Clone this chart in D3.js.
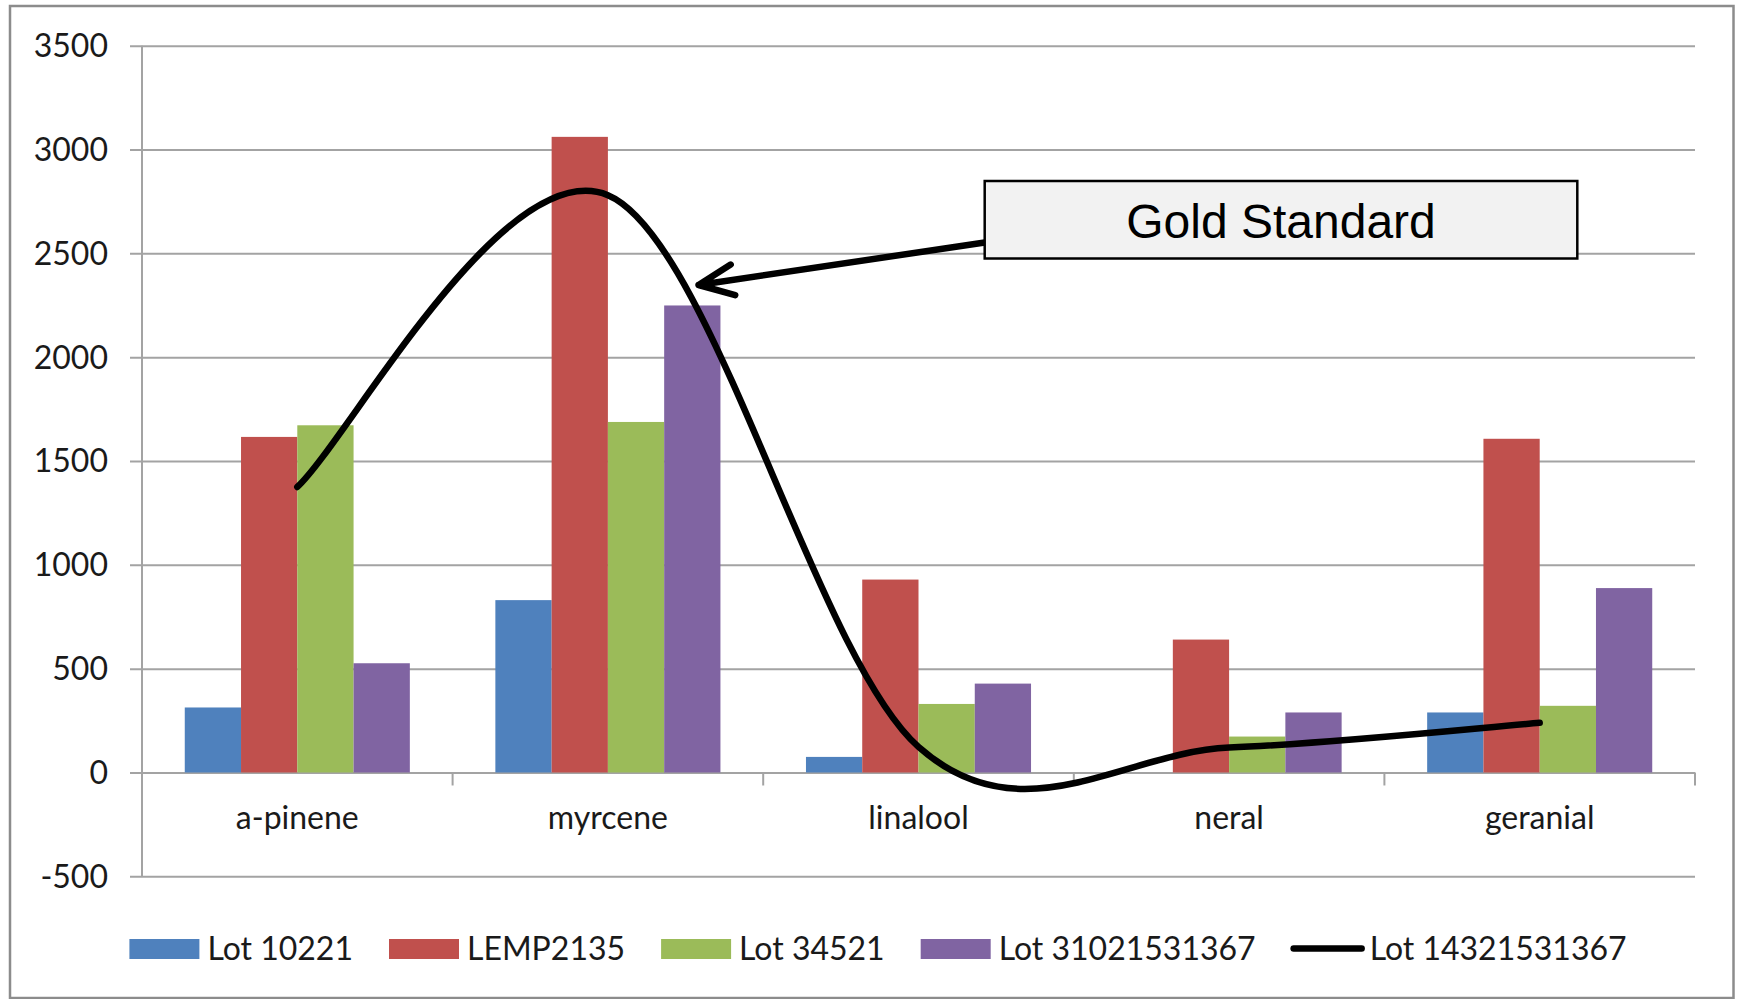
<!DOCTYPE html>
<html>
<head>
<meta charset="utf-8">
<script src="https://cdn.jsdelivr.net/npm/d3@7"></script>
<style>
  html, body { margin: 0; padding: 0; background: #fff; }
  svg { display: block; }
</style>
</head>
<body>
<svg id="chart" width="1741" height="999"></svg>
<script>
// ---------------- data ----------------
const categories = ["a-pinene", "myrcene", "linalool", "neral", "geranial"];
const barSeriesNames = ["Lot 10221", "LEMP2135", "Lot 34521", "Lot 31021531367"];
const lot10221       = [313, 830, 75, 0, 289];
const lemp2135       = [1616, 3061, 929, 640, 1607];
const lot34521       = [1672, 1688, 330, 173, 321];
const lot31021531367 = [526, 2249, 428, 289, 888];
const lineSeriesName = "Lot 14321531367";
const lot14321531367 = [1375, 2780, 123, 120, 239];
const yTickValues = [-500, 0, 500, 1000, 1500, 2000, 2500, 3000, 3500];
const annotationText = "Gold Standard";

const barColors = ["#4F81BD", "#C0504D", "#9BBB59", "#8064A2"];
const barValues = [lot10221, lemp2135, lot34521, lot31021531367];

// ---------------- layout ----------------
const svg = d3.select("#chart");
const calibri = "Lato, Carlito, 'Noto Sans', sans-serif";
const plotLeft = 142, plotRight = 1695, plotTop = 45.7, plotBottom = 876.3;
const gridColor = "#a3a3a3";

// outer chart border
svg.append("rect")
  .attr("x", 10).attr("y", 6)
  .attr("width", 1723.5).attr("height", 992)
  .attr("fill", "#fff").attr("stroke", "#8c8c8c").attr("stroke-width", 2.5);

const y = d3.scaleLinear().domain([-500, 3500]).range([plotBottom, plotTop]);
const x0 = d3.scaleBand().domain(categories).range([plotLeft, plotRight]).paddingInner(0).paddingOuter(0);
const x1 = d3.scaleBand().domain(barSeriesNames).range([0, x0.bandwidth()]).paddingInner(0).paddingOuter(0.76);

// gridlines + y labels via axis
const yAxis = d3.axisLeft(y).tickValues(yTickValues)
  .tickSize(-(plotRight - plotLeft + 12)).tickPadding(22).tickFormat(d => String(d));
const gy = svg.append("g").attr("transform", `translate(${plotLeft - 12},0)`).call(yAxis);
gy.select(".domain").remove();
gy.selectAll(".tick line").attr("stroke", gridColor).attr("stroke-width", 2);
gy.selectAll(".tick text")
  .attr("font-family", calibri).attr("font-size", 32).attr("fill", "#1a1a1a")
  .attr("dy", "0.34em");

// vertical value axis line
svg.append("line")
  .attr("x1", plotLeft).attr("x2", plotLeft)
  .attr("y1", plotTop).attr("y2", plotBottom)
  .attr("stroke", gridColor).attr("stroke-width", 2);

// category axis at zero
const xAxis = d3.axisBottom(x0).tickSize(0).tickPadding(0);
const gx = svg.append("g").attr("transform", `translate(0,${y(0)})`).call(xAxis);
gx.select(".domain").remove();
gx.selectAll(".tick text")
  .attr("font-family", calibri).attr("font-size", 32).attr("fill", "#1a1a1a")
  .attr("y", 0).attr("dy", 0)
  .attr("transform", "translate(0,57)");
// category boundary tick marks
const boundaries = categories.map(c => x0(c) + x0.bandwidth());
svg.append("g").selectAll("line").data(boundaries).join("line")
  .attr("x1", d => d).attr("x2", d => d)
  .attr("y1", y(0)).attr("y2", y(0) + 13)
  .attr("stroke", gridColor).attr("stroke-width", 2);

// bars
const barG = svg.append("g");
categories.forEach((cat, ci) => {
  barSeriesNames.forEach((s, si) => {
    const v = barValues[si][ci];
    if (v === 0) return;
    barG.append("rect")
      .attr("x", x0(cat) + x1(s))
      .attr("y", Math.min(y(v), y(0)))
      .attr("width", x1.bandwidth())
      .attr("height", Math.abs(y(0) - y(v)))
      .attr("fill", barColors[si]);
  });
});

// smoothed line (Excel-style bezier smoothing)
const pts = categories.map((c, i) => [x0(c) + x0.bandwidth() / 2, y(lot14321531367[i])]);
function smoothPath(p, k) {
  const path = d3.path();
  path.moveTo(p[0][0], p[0][1]);
  for (let i = 0; i < p.length - 1; i++) {
    const P0 = p[i - 1] || p[i], P1 = p[i], P2 = p[i + 1], P3 = p[i + 2] || p[i + 1];
    const c1 = [P1[0] + k * (P2[0] - P0[0]), P1[1] + k * (P2[1] - P0[1])];
    const c2 = [P2[0] - k * (P3[0] - P1[0]), P2[1] - k * (P3[1] - P1[1])];
    path.bezierCurveTo(c1[0], c1[1], c2[0], c2[1], P2[0], P2[1]);
  }
  return path.toString();
}
svg.append("path")
  .attr("d", smoothPath(pts, 1 / 6))
  .attr("fill", "none").attr("stroke", "#000").attr("stroke-width", 6.5)
  .attr("stroke-linecap", "round").attr("stroke-linejoin", "round");

// annotation box + arrow
const box = { x: 984.7, y: 181, w: 592.6, h: 77.5 };
const tip = [698.6, 285], tail = [box.x, 242.5];
const ang = Math.atan2(tail[1] - tip[1], tail[0] - tip[0]);
const headLen = 38, headAng = 24 * Math.PI / 180;
const h1 = [tip[0] + headLen * Math.cos(ang - headAng), tip[1] + headLen * Math.sin(ang - headAng)];
const h2 = [tip[0] + headLen * Math.cos(ang + headAng), tip[1] + headLen * Math.sin(ang + headAng)];
svg.append("path")
  .attr("d", `M${tail[0]},${tail[1]}L${tip[0]},${tip[1]}M${h1[0]},${h1[1]}L${tip[0]},${tip[1]}L${h2[0]},${h2[1]}`)
  .attr("fill", "none").attr("stroke", "#000").attr("stroke-width", 6.5)
  .attr("stroke-linecap", "round").attr("stroke-linejoin", "round");
svg.append("rect")
  .attr("x", box.x).attr("y", box.y).attr("width", box.w).attr("height", box.h)
  .attr("fill", "#f2f2f2").attr("stroke", "#000").attr("stroke-width", 2.5);
svg.append("text")
  .attr("x", box.x + box.w / 2).attr("y", 237.5)
  .attr("text-anchor", "middle")
  .attr("font-family", "'Liberation Sans', Arial, sans-serif").attr("font-size", 48)
  .attr("fill", "#000").text(annotationText);

// legend
const legendItems = barSeriesNames.map((n, i) => ({ name: n, color: barColors[i], type: "bar" }))
  .concat([{ name: lineSeriesName, color: "#000", type: "line" }]);
const lg = svg.append("g");
const swW = 70, swGap = 8, itemGap = 36;
let cx = 0;
legendItems.forEach(it => {
  const g = lg.append("g");
  if (it.type === "bar") {
    g.append("rect").attr("x", 0).attr("y", -9.5).attr("width", swW).attr("height", 20).attr("fill", it.color);
  } else {
    g.append("line").attr("x1", 2).attr("x2", swW).attr("y1", 0).attr("y2", 0)
      .attr("stroke", it.color).attr("stroke-width", 6.5).attr("stroke-linecap", "round");
  }
  const t = g.append("text").attr("x", swW + swGap).attr("y", 11)
    .attr("font-family", calibri).attr("font-size", 32).attr("fill", "#1a1a1a").text(it.name);
  const w = swW + swGap + t.node().getComputedTextLength();
  g.attr("transform", `translate(${cx},0)`);
  cx += w + itemGap;
});
const totalW = cx - itemGap;
const legendCenter = 878;
lg.attr("transform", `translate(${legendCenter - totalW / 2},948.5)`);
</script>
</body>
</html>
